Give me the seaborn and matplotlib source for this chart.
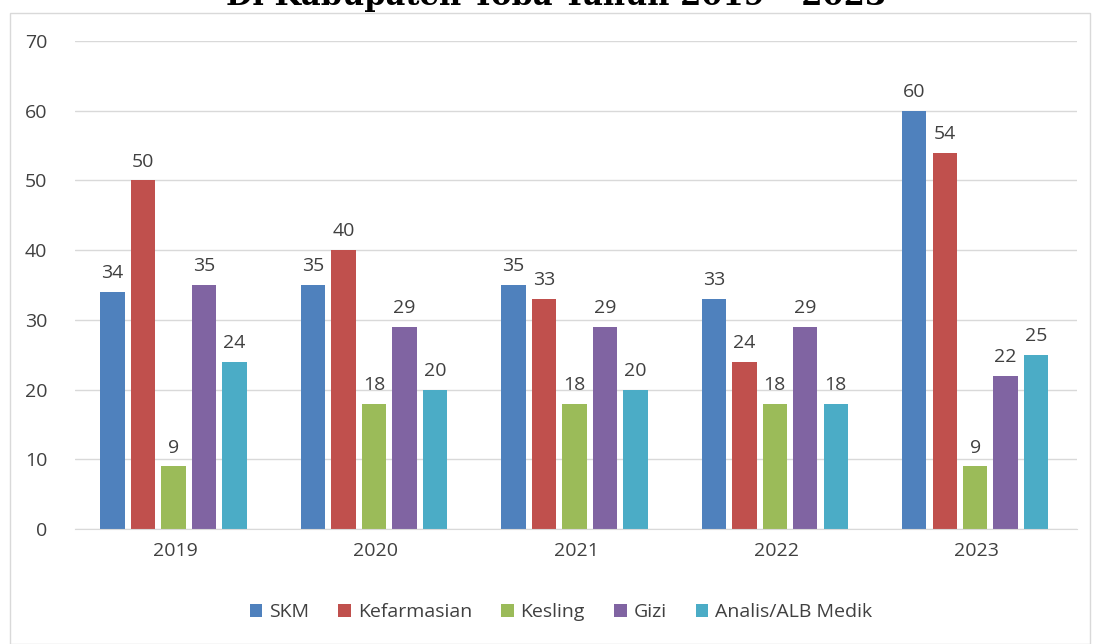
import numpy as np
import pandas as pd
import seaborn as sns
import matplotlib.pyplot as plt
from matplotlib.patches import Rectangle

# data
years = ["2019", "2020", "2021", "2022", "2023"]
skm = [34, 35, 35, 33, 60]
kefarmasian = [50, 40, 33, 24, 54]
kesling = [9, 18, 18, 18, 9]
gizi = [35, 29, 29, 29, 22]
analis = [24, 20, 20, 18, 25]
series_names = ["SKM", "Kefarmasian", "Kesling", "Gizi", "Analis/ALB Medik"]
colors = ["#4F81BD", "#C0504D", "#9BBB59", "#8064A2", "#4BACC6"]

df = pd.DataFrame({"Tahun": years, "SKM": skm, "Kefarmasian": kefarmasian,
                   "Kesling": kesling, "Gizi": gizi, "Analis/ALB Medik": analis})
long = df.melt(id_vars="Tahun", var_name="Jurusan", value_name="Jumlah")

sns.set_style("white")
plt.rcParams['font.family'] = ['Open Sans', 'DejaVu Sans']

fig = plt.figure(figsize=(10.94, 6.44), dpi=100)
ax = fig.add_axes([75/1094, 1-529/644, (1077-75)/1094, (529-41)/644])

sns.barplot(data=long, x="Tahun", y="Jumlah", hue="Jurusan", hue_order=series_names,
            palette=colors, width=0.76, saturation=1, linewidth=0, ax=ax, legend=True)

# thin the bars a bit so there is a gap inside each group
for bar in ax.patches:
    w = bar.get_width()
    if w > 0:
        nw = w * 0.8
        bar.set_x(bar.get_x() + (w - nw) / 2 - 0.008)
        bar.set_width(nw)

for cont in ax.containers:
    ax.bar_label(cont, padding=7, fontsize=14, color="#404040")

ax.set_ylim(0, 70)
ax.set_yticks(range(0, 71, 10))
ax.set_xlim(-0.5, 4.5)
ax.yaxis.grid(True, color="#D9D9D9", linewidth=1)
ax.set_axisbelow(True)
for s in ["top", "right", "left"]:
    ax.spines[s].set_visible(False)
ax.spines["bottom"].set_color("#D9D9D9")
ax.tick_params(axis="both", length=0, labelsize=14, colors="#404040")
ax.tick_params(axis="y", pad=20)
ax.tick_params(axis="x", pad=9)
ax.set_xlabel("")
ax.set_ylabel("")

ax.legend(loc="center", bbox_to_anchor=(0.485, -0.17), ncol=5, frameon=False,
          fontsize=14, handlelength=0.65, handleheight=0.65, handletextpad=0.35,
          columnspacing=1.5, labelcolor="#404040")

# outer chart frame
fig.patches.append(Rectangle((10/1094, 0), 1080/1094, 1-13/644, transform=fig.transFigure,
                             fill=False, edgecolor="#D9D9D9", linewidth=1))

fig.text(0.508, 1-5/644, "Di Kabupaten Toba Tahun 2019 – 2023", ha="center", va="baseline",
         fontsize=22, fontweight="bold", family=["DejaVu Serif"], color="black")

fig.savefig("out.png", dpi=100)
